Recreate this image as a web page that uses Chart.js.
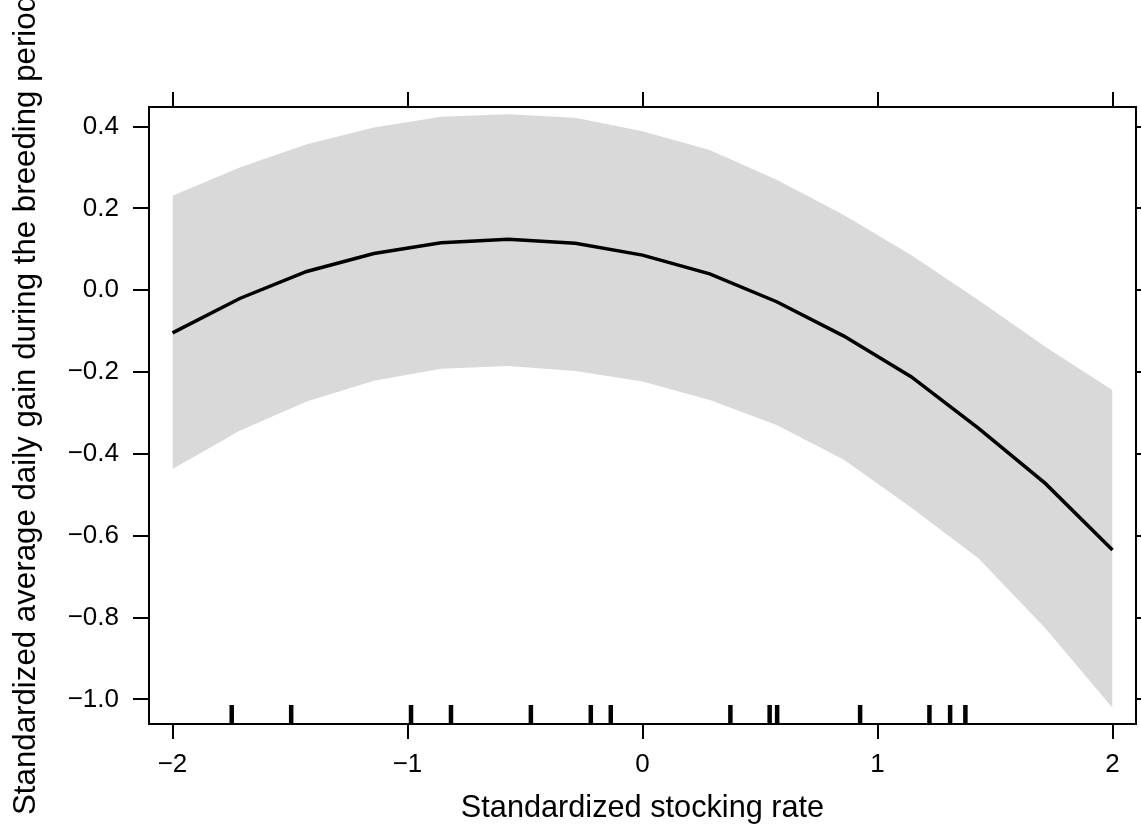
<!DOCTYPE html>
<html><head><meta charset="utf-8">
<script src="https://cdn.jsdelivr.net/npm/chart.js@4.4.1/dist/chart.umd.min.js"></script>
<style>html,body{margin:0;padding:0;background:#fff;}</style>
</head><body>
<canvas id="c" width="1141" height="831"></canvas>
<script>
// ---- data ----
const xGrid = [-2, -1.714, -1.429, -1.143, -0.857, -0.571, -0.286, 0, 0.286, 0.571, 0.857, 1.143, 1.429, 1.714, 2];
const fitted = [-0.104, -0.020, 0.046, 0.090, 0.116, 0.125, 0.115, 0.086, 0.040, -0.028, -0.112, -0.211, -0.337, -0.472, -0.635];
const upperCI = [0.231, 0.300, 0.357, 0.398, 0.424, 0.430, 0.422, 0.389, 0.343, 0.270, 0.184, 0.086, -0.024, -0.138, -0.244];
const lowerCI = [-0.437, -0.343, -0.272, -0.221, -0.192, -0.185, -0.197, -0.223, -0.268, -0.329, -0.414, -0.531, -0.655, -0.826, -1.020];
const rugX = [-1.748, -1.495, -0.985, -0.815, -0.475, -0.220, -0.135, 0.374, 0.541, 0.573, 0.926, 1.221, 1.309, 1.374];
const xTickValues = [-2, -1, 0, 1, 2];
const xTickLabels = ['\u22122', '\u22121', '0', '1', '2'];
const yTickValues = [-1.0, -0.8, -0.6, -0.4, -0.2, 0.0, 0.2, 0.4];
const yTickLabels = ['\u22121.0', '\u22120.8', '\u22120.6', '\u22120.4', '\u22120.2', '0.0', '0.2', '0.4'];
const xTitle = 'Standardized stocking rate';
const yTitle = 'Standardized average daily gain during the breeding period';

const pts = arr => xGrid.map((x, i) => ({x: x, y: arr[i]}));

const FAMILY = '"Liberation Sans", Arial, sans-serif';
Chart.defaults.font.family = FAMILY;
Chart.defaults.color = '#000';

const rugPlugin = {
  id: 'rug',
  afterDatasetsDraw(chart) {
    const {ctx, chartArea, scales} = chart;
    ctx.save();
    ctx.strokeStyle = '#000';
    ctx.lineWidth = 4.5;
    ctx.lineCap = 'butt';
    rugX.forEach(v => {
      const px = scales.x.getPixelForValue(v);
      ctx.beginPath();
      ctx.moveTo(px, chartArea.bottom);
      ctx.lineTo(px, chartArea.bottom - 19);
      ctx.stroke();
    });
    ctx.restore();
  }
};

// y-axis title, anchored at its start (bottom) like the reference, where it runs past the top edge
const yTitlePlugin = {
  id: 'ytitle',
  afterDraw(chart) {
    const ctx = chart.ctx;
    ctx.save();
    ctx.translate(26.4, 815);
    ctx.rotate(-Math.PI / 2);
    ctx.font = '31.25px ' + FAMILY;
    ctx.fillStyle = '#000';
    ctx.textAlign = 'left';
    ctx.textBaseline = 'middle';
    ctx.fillText(yTitle, 0, 0);
    ctx.restore();
  }
};

const tickFont = {size: 26};
const titleFont = {size: 30.7};
const frameGrid = (len) => ({drawOnChartArea: false, drawTicks: true, tickLength: len, color: '#000', tickColor: '#000', lineWidth: 2, tickWidth: 2});
const frameBorder = {display: true, color: '#000', width: 2};

new Chart(document.getElementById('c'), {
  type: 'line',
  data: {
    datasets: [
      {data: pts(fitted), borderColor: '#000', borderWidth: 3.5, pointRadius: 0, fill: false, tension: 0, order: 0},
      {data: pts(upperCI), borderColor: 'rgba(0,0,0,0)', borderWidth: 1, pointRadius: 0, fill: '+1', backgroundColor: '#d9d9d9', tension: 0, order: 1},
      {data: pts(lowerCI), borderColor: 'rgba(0,0,0,0)', borderWidth: 1, pointRadius: 0, fill: false, tension: 0, order: 2}
    ]
  },
  options: {
    responsive: false,
    animation: false,
    layout: {padding: 0},
    plugins: {legend: {display: false}, tooltip: {enabled: false}},
    scales: {
      x: {
        type: 'linear', position: 'bottom', min: -2.1, max: 2.1,
        afterBuildTicks: s => { s.ticks = xTickValues.map(v => ({value: v})); },
        afterFit: s => { s.height = 107; },
        ticks: {callback: (v, i) => xTickLabels[i], font: tickFont, color: '#000', padding: 10, maxRotation: 0, autoSkip: false},
        grid: frameGrid(15),
        border: frameBorder,
        title: {display: true, text: xTitle, font: titleFont, color: '#000', padding: {top: 0, bottom: 4}}
      },
      x2: {
        type: 'linear', position: 'top', min: -2.1, max: 2.1,
        afterBuildTicks: s => { s.ticks = xTickValues.map(v => ({value: v})); },
        afterFit: s => { s.height = 107; },
        ticks: {display: false},
        grid: frameGrid(15),
        border: frameBorder
      },
      y: {
        type: 'linear', position: 'left', min: -1.06, max: 0.448,
        afterBuildTicks: s => { s.ticks = yTickValues.map(v => ({value: v})); },
        afterFit: s => { s.width = 149; },
        ticks: {callback: (v, i) => yTickLabels[i], font: tickFont, color: '#000', padding: 14, autoSkip: false},
        grid: frameGrid(16),
        border: frameBorder,
        title: {display: false}
      },
      y2: {
        type: 'linear', position: 'right', min: -1.06, max: 0.448,
        afterBuildTicks: s => { s.ticks = yTickValues.map(v => ({value: v})); },
        afterFit: s => { s.width = 5; },
        ticks: {display: false},
        grid: frameGrid(15),
        border: frameBorder
      }
    }
  },
  plugins: [rugPlugin, yTitlePlugin]
});
</script>
</body></html>
